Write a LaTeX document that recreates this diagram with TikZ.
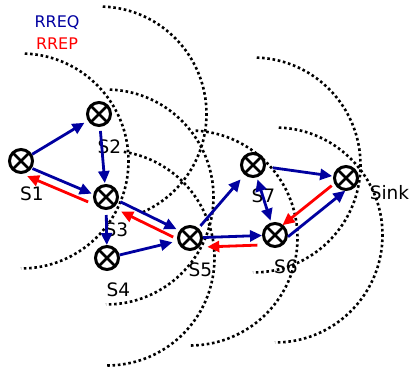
\documentclass[tikz,border=0pt]{standalone}
\usepackage{fontspec}
\setmainfont{DejaVu Sans}
\usetikzlibrary{arrows.meta,calc}

\definecolor{reqblue}{RGB}{0,0,160}
\definecolor{repred}{RGB}{255,0,0}

\tikzset{
  sensor/.style={circle, draw=black, line width=3pt, minimum size=23pt, inner sep=0pt,
    path picture={\draw[line width=2.8pt]
      (path picture bounding box.center) +(45:12pt) -- +(225:12pt)
      (path picture bounding box.center) +(135:12pt) -- +(315:12pt);}},
  lab/.style={inner sep=0pt, font=\fontsize{18.5}{20}\selectfont},
  legend/.style={inner sep=0pt, font=\fontsize{16}{18}\selectfont},
  radiorange/.style={black, line width=2.6pt, dash pattern=on 2.6pt off 2.7pt},
  tip/.style={Triangle[length=12pt,width=11pt]},
  req/.style={reqblue, line width=2.8pt, -{Triangle[length=12pt,width=11pt]}},
  rep/.style={repred, line width=2.8pt, -{Triangle[length=12pt,width=11pt]}},
}

\begin{document}
\begin{tikzpicture}[x=1pt,y=1pt]
\useasboundingbox (0,0) rectangle (411,370);

% sensor nodes
\node[sensor] (s1)   at (21,209)  {};
\node[sensor] (s2)   at (99,256)  {};
\node[sensor] (s3)   at (106,173) {};
\node[sensor] (s4)   at (107,112) {};
\node[sensor] (s5)   at (190,132) {};
\node[sensor] (s6)   at (275,135) {};
\node[sensor] (s7)   at (253,205) {};
\node[sensor] (sink) at (346,192) {};

% transmission ranges
\foreach \n/\a/\b in {s1/88/-90, s2/88/-66, s3/88/-90, s4/81/-90, s5/87/-90, s6/88/-90, s7/88/-90}{
  \draw[radiorange] (\n.center) ++(\a:107.5pt) arc[start angle=\a, end angle=\b, radius=107.5pt];
}

% labels
\node[lab] (l1) at (32,176)    {S1};
\node[lab] (l2) at (109.5,223.5) {S2};
\node[lab] (l3) at (116.5,140.5) {S3};
\node[lab] (l4) at (118.5,80.5)  {S4};
\node[lab] (l5) at (200.5,100.5) {S5};
\node[lab] (l6) at (286,103.5)   {S6};
\node[lab] (l7) at (263.5,174.5) {S7};
\node[lab] (lk) at (389.5,177.5) {Sink};

% legend
\node[legend, text=reqblue] (lq) at (57,347) {RREQ};
\node[legend, text=repred]  (lp) at (57,326) {RREP};

% route requests
\draw[req, shorten >=4pt] (s1) -- (s2);
\draw[req, shorten <=13.5pt, shorten >=14.5pt]
  ($(s1)!2.5pt!-90:(s3)$) -- ($(s3)!2.5pt!90:(s1)$);
\draw[req, shorten <=4pt, shorten >=1pt] (s2) -- (s3);
\draw[req, shorten <=5pt] (s3) -- (s4);
\draw[req, shorten <=15pt, shorten >=16pt]
  ($(s3)!2pt!90:(s5)$) -- ($(s5)!2pt!-90:(s3)$);
\draw[req, shorten >=5pt] (s4) -- (s5);
\draw[req, shorten <=3pt, shorten >=6pt] (s5) -- (s7);
\draw[req] (s5) -- (s6);
\draw[req, shorten <=7pt, shorten >=1pt] (s7) -- (sink);
\draw[reqblue, line width=2.8pt, {Triangle[length=12pt,width=11pt]}-{Triangle[length=12pt,width=11pt]},
  shorten <=2pt, shorten >=2pt] (s7) -- (s6);
\draw[req, shorten <=9pt, shorten >=8.5pt]
  ($(s6)!9.5pt!-90:(sink)$) -- ($(sink)!9.5pt!90:(s6)$);

% route replies
\draw[rep, shorten <=14.5pt, shorten >=11.5pt]
  ($(s3)!11.5pt!90:(s1)$) -- ($(s1)!11.5pt!-90:(s3)$);
\draw[rep, shorten <=15.5pt, shorten >=20pt]
  ($(s5)!6.5pt!90:(s3)$) -- ($(s3)!6.5pt!-90:(s5)$);
\draw[rep, shorten <=18pt, shorten >=17pt]
  ($(s6)!9.5pt!90:(s5)$) -- ($(s5)!9.5pt!-90:(s6)$);
\draw[rep, shorten <=16pt, shorten >=12pt]
  ($(sink)!3pt!-90:(s6)$) -- ($(s6)!3pt!90:(sink)$);
\end{tikzpicture}
\end{document}
